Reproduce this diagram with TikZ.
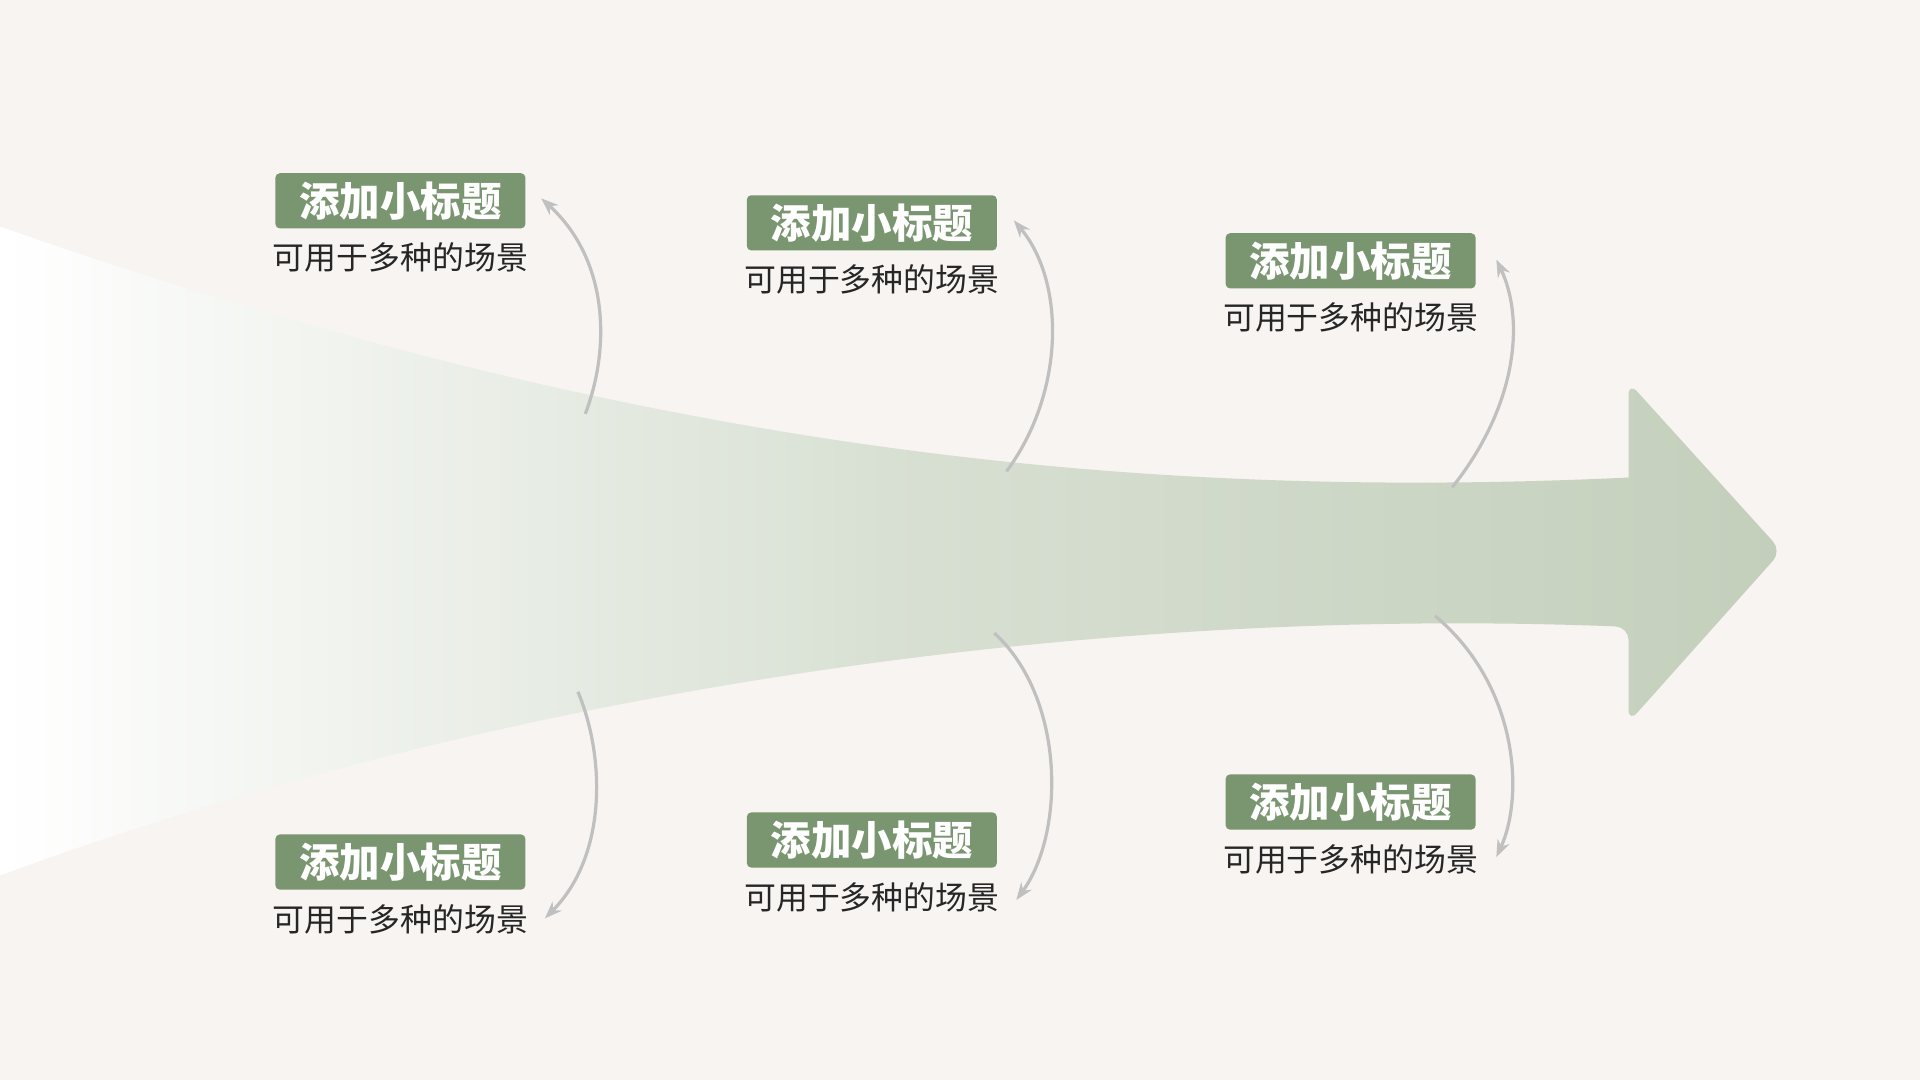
\documentclass[tikz,border=0pt]{standalone}
\usepackage{fontspec}
\newfontfamily\cjk{Noto Sans CJK SC}
\usetikzlibrary{arrows.meta}
\definecolor{bgcol}{HTML}{F7F4F2}
\definecolor{tagcol}{HTML}{7A9670}
\definecolor{flowcol}{HTML}{C3CFBB}
\definecolor{linkcol}{HTML}{C0C0C0}

\begin{document}
\begin{tikzpicture}[x=0.01cm, y=-0.01cm,
    tag/.style={fill=tagcol, rounded corners=1pt, minimum width=2.04cm, minimum height=0.45cm, inner sep=0pt, text=white, font=\cjk\bfseries\fontsize{9.4}{10}\selectfont},
    sub/.style={below=0pt, yshift=-2pt, inner sep=1pt, text=black!85, font=\cjk\fontsize{7.4}{8}\selectfont},
    link/.style={draw=linkcol, line width=0.75pt, -{Stealth[length=4pt, width=3pt]}}]
    \fill[bgcol] (0,0) rectangle (1568,882);
    \useasboundingbox (0,0) rectangle (1568,882);

    % big arrow
    \shade[left color=white, right color=flowcol, middle color=flowcol!65!white]
        (0,185) .. controls (500,360) and (900,410) .. (1330,390)
        [rounded corners=3pt] -- (1330,312) -- (1455,450) -- (1330,590) -- (1330,512) [sharp corners]
        .. controls (900,495) and (420,560) .. (0,715) -- cycle;

    % tags
    \node[tag] (t1) at (327,164) {添加小标题};
    \node[sub] (s1) at (t1.south) {可用于多种的场景};
    \node[tag] (t2) at (712,182) {添加小标题};
    \node[sub] (s2) at (t2.south) {可用于多种的场景};
    \node[tag] (t3) at (1103,213) {添加小标题};
    \node[sub] (s3) at (t3.south) {可用于多种的场景};
    \node[tag] (t4) at (327,704) {添加小标题};
    \node[sub] (s4) at (t4.south) {可用于多种的场景};
    \node[tag] (t5) at (712,686) {添加小标题};
    \node[sub] (s5) at (t5.south) {可用于多种的场景};
    \node[tag] (t6) at (1103,655) {添加小标题};
    \node[sub] (s6) at (t6.south) {可用于多种的场景};

    % links
    \coordinate (a1) at (478,338); \coordinate (b1) at (442,162);
    \coordinate (a2) at (822,385); \coordinate (b2) at (828,180);
    \coordinate (a3) at (1186,398); \coordinate (b3) at (1222,212);
    \coordinate (a4) at (472,565); \coordinate (b4) at (445,750);
    \coordinate (a5) at (812,517); \coordinate (b5) at (830,735);
    \coordinate (a6) at (1172,503); \coordinate (b6) at (1222,700);
    \draw[link] (a1) .. controls (500,280) and (495,210) .. (b1);
    \draw[link] (a2) .. controls (870,320) and (870,230) .. (b2);
    \draw[link] (a3) .. controls (1240,330) and (1245,260) .. (b3);
    \draw[link] (a4) .. controls (495,620) and (495,700) .. (b4);
    \draw[link] (a5) .. controls (870,570) and (870,680) .. (b5);
    \draw[link] (a6) .. controls (1240,560) and (1245,650) .. (b6);
\end{tikzpicture}
\end{document}
